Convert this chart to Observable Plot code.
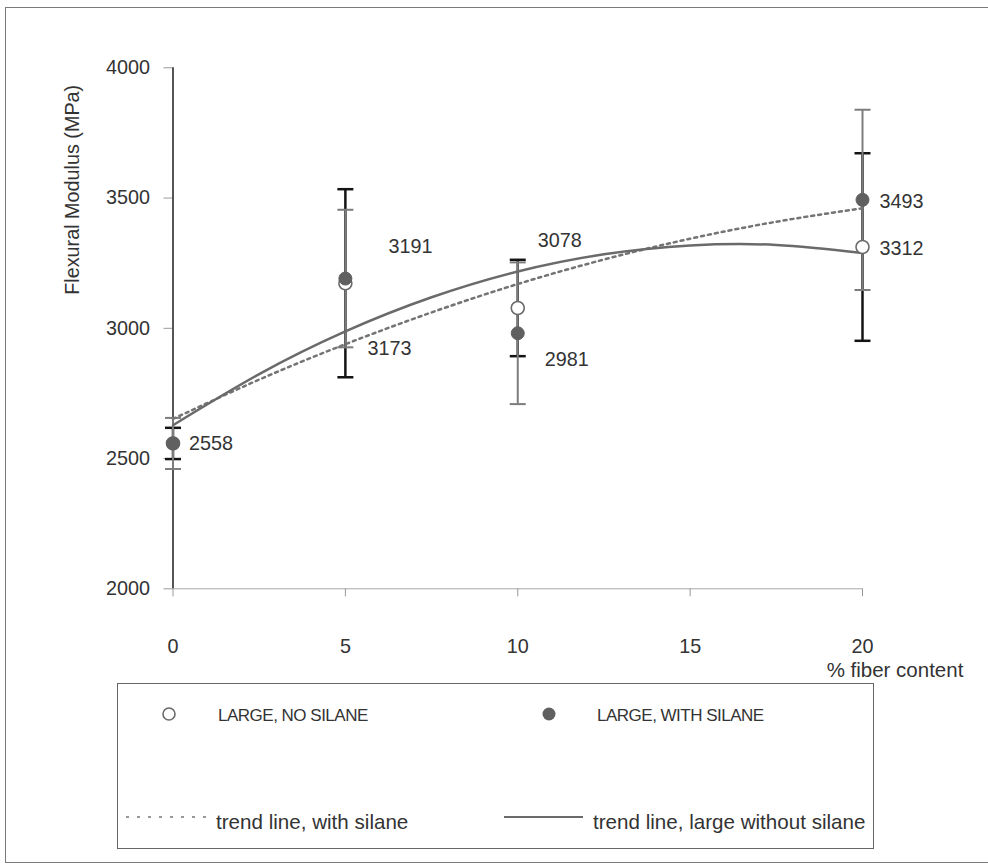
<!DOCTYPE html>
<html><head><meta charset="utf-8">
<script src="https://cdn.jsdelivr.net/npm/d3@7"></script>
<script src="https://cdn.jsdelivr.net/npm/@observablehq/plot@0.6"></script>
<style>
body{margin:0;background:#fff;font-family:"Liberation Sans",Arial,sans-serif;color:#333}
#wrap{position:relative;width:988px;height:868px;overflow:hidden}
#frame{position:absolute;left:5px;top:7px;width:1000px;height:856px;border:1px solid #7a7a7a;box-sizing:border-box}
#chart{position:absolute;left:0;top:0}
#legend{position:absolute;left:117px;top:683px;width:757px;height:166px;border:1px solid #666;box-sizing:border-box;font-size:17px;letter-spacing:-0.5px;color:#333}
#legend .it{position:absolute;white-space:nowrap;line-height:1}
#legend svg{position:absolute;overflow:visible}
</style>
</head><body>
<div id="wrap">
  <div id="frame"></div>
  <div id="chart"></div>
  <div id="legend"></div>
</div>
<script>
// ---- data ----
const fiber = [0, 5, 10, 20];
const noSilane = [2558, 3173, 3078, 3312];
const withSilane = [2558, 3191, 2981, 3493];
const errNoSilane = [60, 361, 185, 360];
const errWithSilane = [98, 264, 272, 346];
const trendX = [0, 2.5, 5, 7.5, 10, 12.5, 15, 17.5, 20];
const trendNoSilane = [2628, 2824, 2988, 3119, 3218, 3284, 3318, 3320, 3289];
const trendWithSilane = [2652, 2803, 2939, 3061, 3170, 3264, 3344, 3409, 3461];
const xTicks = [0, 5, 10, 15, 20];
const yTicks = [2000, 2500, 3000, 3500, 4000];
const seriesNames = ["LARGE, NO SILANE", "LARGE, WITH SILANE"];
const trendNames = ["trend line, with silane", "trend line, large without silane"];
const yTitle = "Flexural Modulus (MPa)";
const xTitle = "% fiber content";

// ---- tables ----
const ns = fiber.map((x, i) => ({x, y: noSilane[i], err: errNoSilane[i], i}));
const ws = fiber.map((x, i) => ({x, y: withSilane[i], err: errWithSilane[i], i}));
const tNs = trendX.map((x, i) => ({x, y: trendNoSilane[i]}));
const tWs = trendX.map((x, i) => ({x, y: trendWithSilane[i]}));
const caps = rows => rows.flatMap(d => [{x: d.x, y: d.y - d.err}, {x: d.x, y: d.y + d.err}]);

const capSymbol = {draw(ctx, size) { const w = Math.sqrt(size / Math.PI); ctx.moveTo(-w, 0); ctx.lineTo(w, 0); }};

// label placement (pixel offsets, code-side)
const labelSpecs = [
  {d: ws[0], dx: 16, dy: 0},
  {d: ws[1], dx: 43, dy: -32},
  {d: ns[1], dx: 22, dy: 65},
  {d: ns[2], dx: 20, dy: -67},
  {d: ws[2], dx: 27, dy: 26},
  {d: ws[3], dx: 17, dy: 2},
  {d: ns[3], dx: 17, dy: 2}
];

const gray = "#7c7c7c";
const dark = "#141414";

const plot = Plot.plot({
  width: 988,
  height: 690,
  marginLeft: 172.5,
  marginRight: 126,
  marginTop: 67.3,
  marginBottom: 101.7,
  style: {fontFamily: "'Liberation Sans', Arial, sans-serif", fontSize: "19.8px", color: "#333", background: "transparent", overflow: "visible"},
  x: {domain: [0, 20]},
  y: {domain: [2000, 4000]},
  marks: [
    Plot.ruleY([2000], {x1: 0, x2: 20, stroke: "#a8a8a8", strokeWidth: 1}),
    Plot.axisX({ticks: xTicks, tickSize: 8, tickPadding: 42, stroke: "#999", fill: "#333", label: null, tickFormat: d => String(d)}),
    Plot.axisY({ticks: yTicks, tickSize: 9, tickPadding: 14, stroke: "#999", fill: "#333", label: null, tickFormat: d => String(d)}),
    Plot.ruleX([0], {y1: 2000, y2: 4000, stroke: "#555", strokeWidth: 2}),
    // black error bars (no silane)
    Plot.ruleX(ns, {x: "x", y1: d => d.y - d.err, y2: d => d.y + d.err, stroke: dark, strokeWidth: 2.5}),
    Plot.dot(caps(ns), {x: "x", y: "y", symbol: capSymbol, r: 8, stroke: dark, strokeWidth: 2.5, fill: "none"}),
    // gray error bars (with silane)
    Plot.ruleX(ws, {x: "x", y1: d => d.y - d.err, y2: d => d.y + d.err, stroke: gray, strokeWidth: 2}),
    Plot.dot(caps(ws), {x: "x", y: "y", symbol: capSymbol, r: 8, stroke: gray, strokeWidth: 2, fill: "none"}),
    // trend lines
    Plot.line(tWs, {x: "x", y: "y", curve: "natural", stroke: "#747474", strokeWidth: 2.5, strokeDasharray: "3,4"}),
    Plot.line(tNs, {x: "x", y: "y", curve: "natural", stroke: "#6a6a6a", strokeWidth: 2.5}),
    // points
    Plot.dot(ns, {x: "x", y: "y", r: 6.5, fill: "white", stroke: "#6a6a6a", strokeWidth: 1.6}),
    Plot.dot(ws, {x: "x", y: "y", r: 6.5, fill: "#606060", stroke: "#606060", strokeWidth: 1}),
    // value labels
    ...labelSpecs.map(s => Plot.text([s.d], {x: "x", y: "y", text: d => String(d.y), dx: s.dx, dy: s.dy, textAnchor: "start", lineAnchor: "middle", fill: "#333"})),
    // axis titles
    Plot.text([yTitle], {frameAnchor: "top-left", text: d => d, dx: -100, dy: 122, rotate: -90, textAnchor: "middle", lineAnchor: "middle", fill: "#333"}),
    Plot.text([xTitle], {frameAnchor: "bottom-left", text: d => d, dx: 722, dy: 82, textAnchor: "middle", lineAnchor: "middle", fontSize: 20.5, letterSpacing: 1.2, fill: "#333"})
  ]
});
document.getElementById("chart").appendChild(plot);

// ---- legend (HTML, below the plot) ----
const lg = document.getElementById("legend");
lg.innerHTML = `
  <svg style="left:43px;top:22px" width="16" height="16"><circle cx="8" cy="8" r="6" fill="white" stroke="#6a6a6a" stroke-width="1.6"/></svg>
  <div class="it" style="left:100px;top:23px">${seriesNames[0]}</div>
  <svg style="left:423px;top:22px" width="16" height="16"><circle cx="8" cy="8" r="6.5" fill="#606060"/></svg>
  <div class="it" style="left:479px;top:23px">${seriesNames[1]}</div>
  <svg style="left:8px;top:128px" width="84" height="10"><line x1="0" y1="5" x2="82" y2="5" stroke="#777" stroke-width="1.6" stroke-dasharray="3,8"/></svg>
  <div class="it" style="left:98px;top:128px;font-size:20.6px;letter-spacing:0">${trendNames[0]}</div>
  <svg style="left:386px;top:128px" width="84" height="10"><line x1="0" y1="5" x2="79" y2="5" stroke="#6a6a6a" stroke-width="2"/></svg>
  <div class="it" style="left:475px;top:128px;font-size:20.6px;letter-spacing:0">${trendNames[1]}</div>
`;
</script>
</body></html>
